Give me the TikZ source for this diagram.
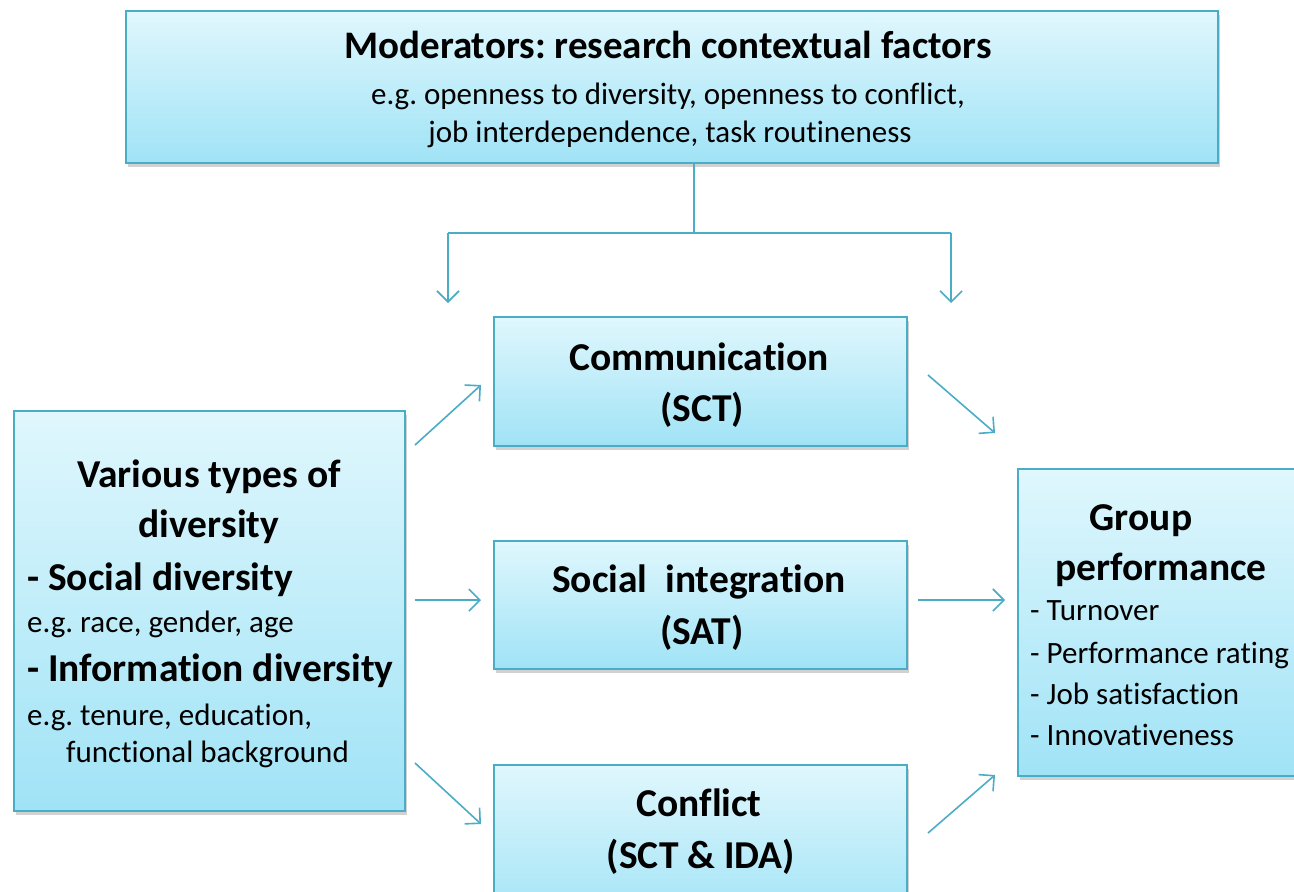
\documentclass[tikz,border=0pt]{standalone}
\usepackage{fontspec}
\setmainfont{Carlito}[Ligatures=NoCommon]
\usetikzlibrary{arrows.meta,shadows}
\definecolor{edgec}{RGB}{75,172,198}
\definecolor{filltop}{RGB}{224,247,253}
\definecolor{fillbot}{RGB}{160,227,246}
\tikzset{
  box/.style={draw=edgec, line width=1.5pt, top color=filltop, bottom color=fillbot,
    rectangle, anchor=north west, inner sep=0pt,
    drop shadow={shadow xshift=2pt, shadow yshift=-4pt, opacity=0.3, fill=black!60}},
  conn/.style={draw=edgec, line width=1.6pt, -{Straight Barb[length=11pt,width=22pt,line width=1.6pt]}},
  plain/.style={draw=edgec, line width=1.6pt},
  bt/.style={font=\fontsize{39.5}{44}\selectfont\bfseries, anchor=base, inner sep=0pt},
  bl/.style={font=\fontsize{39.5}{44}\selectfont\bfseries, anchor=base west, inner sep=0pt},
  rt/.style={font=\fontsize{31}{35}\selectfont, anchor=base, inner sep=0pt},
  rl/.style={font=\fontsize{31}{35}\selectfont, anchor=base west, inner sep=0pt},
}
\frenchspacing
\begin{document}
\frenchspacing
\begin{tikzpicture}[x=1pt,y=-1pt]
\useasboundingbox (0,0) rectangle (1294,892);
\clip (0,0) rectangle (1294,892);
% boxes
\node[box, minimum width=1092pt, minimum height=152pt] (top) at (125,10) {};
\node[box, minimum width=391pt, minimum height=400pt] (left) at (13,410) {};
\node[box, minimum width=413pt, minimum height=129pt] (comm) at (493,316) {};
\node[box, minimum width=413pt, minimum height=128pt] (soc) at (493,540) {};
\node[box, minimum width=413pt, minimum height=160pt] (conf) at (493,764) {};
\node[box, minimum width=300pt, minimum height=307pt] (grp) at (1017,468) {};
% top text
\node[bt, font=\fontsize{39}{44}\selectfont\bfseries] (t1) at (668,58) {Moderators: research contextual factors};
\node[rt] (t2) at (668,104) {e.g. openness to diversity, openness to conflict,};
\node[rt] (t3) at (670,142) {job interdependence, task routineness};
% left text
\node[bt] (l1) at (209,487) {Various types of};
\node[bt] (l2) at (209,537) {diversity};
\node[bl] (l3) at (27,590) {- Social diversity};
\node[rl] (l4) at (27,632) {e.g. race, gender, age};
\node[bl] (l5) at (27,681) {- Information diversity};
\node[rl] (l6) at (27,725) {e.g. tenure, education,};
\node[rl] (l7) at (66,762) {functional background};
% middle text
\node[bt] (c1) at (699,370) {Communication};
\node[bt] (c2) at (702,421) {(SCT)};
\node[bt] (s1) at (699,592) {Social\ \ integration};
\node[bt] (s2) at (702,644) {(SAT)};
\node[bt] (f1) at (699,816) {Conflict};
\node[bt] (f2) at (701,868) {(SCT \& IDA)};
% right text
\node[bt] (g1) at (1141,530) {Group};
\node[bt] (g2) at (1161,580) {performance};
\node[rl] (g3) at (1030,620) {- Turnover};
\node[rl] (g4) at (1030,663) {- Performance rating};
\node[rl] (g5) at (1030,704) {- Job satisfaction};
\node[rl] (g6) at (1030,745) {- Innovativeness};
% connector coordinates
\coordinate (j0) at (694,162);
\coordinate (j1) at (694,233);
\coordinate (jl) at (448,233);
\coordinate (jr) at (951,233);
\coordinate (al) at (448,303);
\coordinate (ar) at (951,303);
\coordinate (a1s) at (415,445);
\coordinate (a1e) at (481,385);
\coordinate (a2s) at (415,600);
\coordinate (a2e) at (481,600);
\coordinate (a3s) at (415,763);
\coordinate (a3e) at (481,824);
\coordinate (b1s) at (928,375);
\coordinate (b1e) at (995,433);
\coordinate (b2s) at (918,600);
\coordinate (b2e) at (1005,600);
\coordinate (b3s) at (928,833);
\coordinate (b3e) at (995,775);
% connectors
\draw[plain] (top.south -| j0) -- (j1);
\draw[plain] (jl) -- (jr);
\draw[conn] (jl) -- (al);
\draw[conn] (jr) -- (ar);
\draw[conn] (a1s) -- (a1e);
\draw[conn] (a2s) -- (a2e);
\draw[conn] (a3s) -- (a3e);
\draw[conn] (b1s) -- (b1e);
\draw[conn] (b2s) -- (b2e);
\draw[conn] (b3s) -- (b3e);
\end{tikzpicture}
\end{document}
